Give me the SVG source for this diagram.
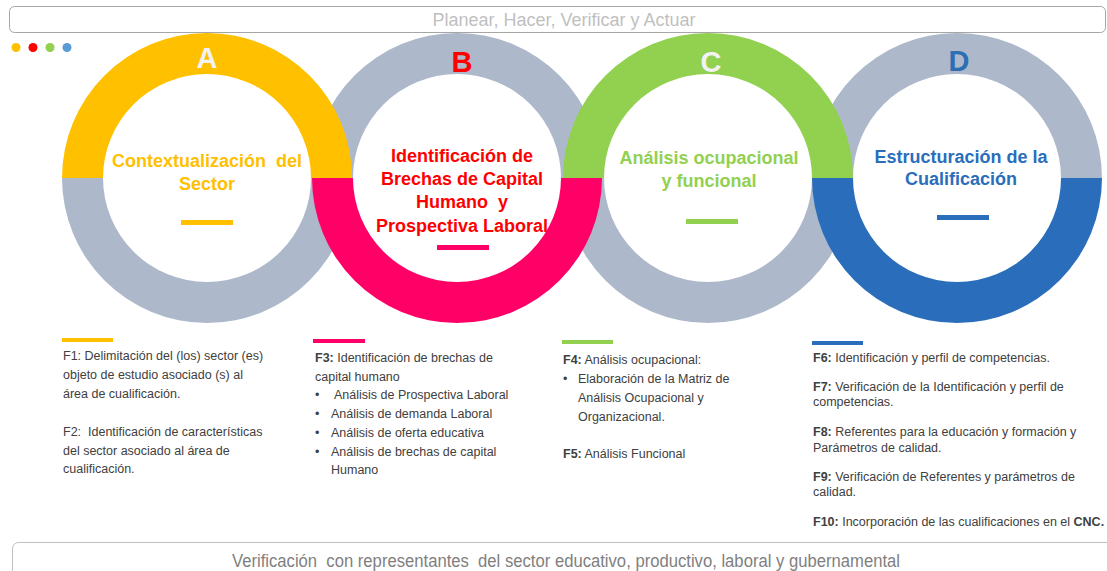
<svg xmlns="http://www.w3.org/2000/svg" width="1107" height="571" viewBox="0 0 1107 571">
<style>
.bar{fill:#fff;stroke:#A6A6A6;stroke-width:1}
.gray{fill:#ADB9CA}
.yel{fill:#FFC000}.pink{fill:#FF0066}.grn{fill:#92D050}.blu{fill:#2A6EBB}
.letter{font-family:"Liberation Sans",Arial,sans-serif;font-weight:bold;font-size:29px;text-anchor:middle}
.title{font-family:"Liberation Sans",Arial,sans-serif;font-weight:bold;font-size:18px;text-anchor:middle}
.body{font-family:"Liberation Sans",Arial,sans-serif;font-size:12.5px;fill:#404040}
.b{font-weight:bold}
.hdr{font-family:"Liberation Sans",Arial,sans-serif;font-size:18px;fill:#BFBFBF;text-anchor:middle}
.ftr{font-family:"Liberation Sans",Arial,sans-serif;font-size:17.5px;fill:#7F7F7F;text-anchor:middle}
</style>
<rect width="1107" height="571" fill="#fff"/>
<g id="header">
<rect class="bar" x="9.5" y="6.5" width="1096" height="26" rx="5"/>
<text class="hdr" x="564" y="25.5">Planear, Hacer, Verificar y Actuar</text>
</g>
<g id="dots">
<circle cx="16" cy="47.5" r="4.5" fill="#FFC000"/>
<circle cx="33" cy="47.5" r="4.5" fill="#FF0000"/>
<circle cx="50" cy="47.5" r="4.5" fill="#92D050"/>
<circle cx="67" cy="47.5" r="4.5" fill="#5B9BD5"/>
</g>
<g id="rings-gray">
<path class="gray" d="M62,178 A145,145 0 0 0 352,178 L311,178 A104,104 0 0 1 103,178 Z"/>
<path class="gray" d="M312,178 A145,145 0 0 1 602,178 L561,178 A104,104 0 0 0 353,178 Z"/>
<path class="gray" d="M563,178 A145,145 0 0 0 853,178 L812,178 A104,104 0 0 1 604,178 Z"/>
<path class="gray" d="M812,178 A145,145 0 0 1 1102,178 L1061,178 A104,104 0 0 0 853,178 Z"/>
</g>
<g id="node-A">
<path class="yel" d="M62,178 A145,145 0 0 1 352,178 L311,178 A104,104 0 0 0 103,178 Z"/>
<text class="letter" x="207" y="68" fill="#F2F2F2">A</text>
<text class="title" fill="#FFC000" x="207" y="167" xml:space="preserve">Contextualización  del</text>
<text class="title" fill="#FFC000" x="207" y="190">Sector</text>
<rect x="181" y="220" width="52" height="5" fill="#FFC000"/>
</g>
<g id="node-B">
<path class="pink" d="M312,178 A145,145 0 0 0 602,178 L561,178 A104,104 0 0 1 353,178 Z"/>
<text class="letter" x="462" y="72" fill="#FF0000">B</text>
<text class="title" fill="#FF0000" x="462" y="162">Identificación de</text>
<text class="title" fill="#FF0000" x="462" y="185">Brechas de Capital</text>
<text class="title" fill="#FF0000" x="462" y="208" xml:space="preserve">Humano  y</text>
<text class="title" fill="#FF0000" x="462" y="232">Prospectiva Laboral</text>
<rect x="437" y="245" width="52" height="5" fill="#FF0066"/>
</g>
<g id="node-C">
<path class="grn" d="M563,178 A145,145 0 0 1 853,178 L812,178 A104,104 0 0 0 604,178 Z"/>
<text class="letter" x="711" y="72" fill="#F2F2F2">C</text>
<text class="title" fill="#92D050" x="709" y="164">Análisis ocupacional</text>
<text class="title" fill="#92D050" x="709" y="187">y funcional</text>
<rect x="686" y="219" width="52" height="5" fill="#92D050"/>
</g>
<g id="node-D">
<path class="blu" d="M812,178 A145,145 0 0 0 1102,178 L1061,178 A104,104 0 0 1 853,178 Z"/>
<text class="letter" x="959" y="71" fill="#2E6EB5">D</text>
<text class="title" fill="#2A6EBB" x="961" y="163">Estructuración de la</text>
<text class="title" fill="#2A6EBB" x="961" y="185">Cualificación</text>
<rect x="937" y="215" width="52" height="5" fill="#2A6EBB"/>
</g>
<g id="desc-A">
<rect x="62" y="338" width="51" height="4" fill="#FFC000"/>
<text class="body" x="63" y="360">F1: Delimitación del (los) sector (es)</text>
<text class="body" x="63" y="379">objeto de estudio asociado (s) al</text>
<text class="body" x="63" y="398">área de cualificación.</text>
<text class="body" x="63" y="436" xml:space="preserve">F2:  Identificación de características</text>
<text class="body" x="63" y="455">del sector asociado al área de</text>
<text class="body" x="63" y="473">cualificación.</text>
</g>
<g id="desc-B">
<rect x="313" y="339" width="52" height="4" fill="#FF0066"/>
<text class="body" x="315" y="362"><tspan class="b">F3:</tspan> Identificación de brechas de</text>
<text class="body" x="315" y="381">capital humano</text>
<text class="body" x="315" y="399">•</text><text class="body" x="334" y="399">Análisis de Prospectiva Laboral</text>
<text class="body" x="315" y="418">•</text><text class="body" x="331" y="418">Análisis de demanda Laboral</text>
<text class="body" x="315" y="437">•</text><text class="body" x="331" y="437">Análisis de oferta educativa</text>
<text class="body" x="315" y="456">•</text><text class="body" x="331" y="456">Análisis de brechas de capital</text>
<text class="body" x="331" y="474">Humano</text>
</g>
<g id="desc-C">
<rect x="562" y="340" width="51" height="4" fill="#92D050"/>
<text class="body" x="563" y="364"><tspan class="b">F4:</tspan> Análisis ocupacional:</text>
<text class="body" x="563" y="383">•</text><text class="body" x="578" y="383">Elaboración de la Matriz de</text>
<text class="body" x="578" y="402">Análisis Ocupacional y</text>
<text class="body" x="578" y="421">Organizacional.</text>
<text class="body" x="563" y="458"><tspan class="b">F5:</tspan> Análisis Funcional</text>
</g>
<g id="desc-D">
<rect x="812" y="341" width="51" height="4" fill="#2A6EBB"/>
<text class="body" x="813" y="362"><tspan class="b">F6:</tspan> Identificación y perfil de competencias.</text>
<text class="body" x="813" y="391"><tspan class="b">F7:</tspan> Verificación de la Identificación y perfil de</text>
<text class="body" x="813" y="406">competencias.</text>
<text class="body" x="813" y="436"><tspan class="b">F8:</tspan> Referentes para la educación y formación y</text>
<text class="body" x="813" y="452">Parámetros de calidad.</text>
<text class="body" x="813" y="481"><tspan class="b">F9:</tspan> Verificación de Referentes y parámetros de</text>
<text class="body" x="813" y="496">calidad.</text>
<text class="body" x="813" y="526"><tspan class="b">F10:</tspan> Incorporación de las cualificaciones en el <tspan class="b">CNC.</tspan></text>
</g>
<g id="footer">
<rect x="12.5" y="542.5" width="1110" height="60" rx="6" fill="#fff" stroke="#BFBFBF" stroke-width="1"/>
<text class="ftr" x="566" y="566.5" textLength="668" lengthAdjust="spacingAndGlyphs" xml:space="preserve">Verificación  con representantes  del sector educativo, productivo, laboral y gubernamental</text>
</g>
<g id="connectors"/>
</svg>
